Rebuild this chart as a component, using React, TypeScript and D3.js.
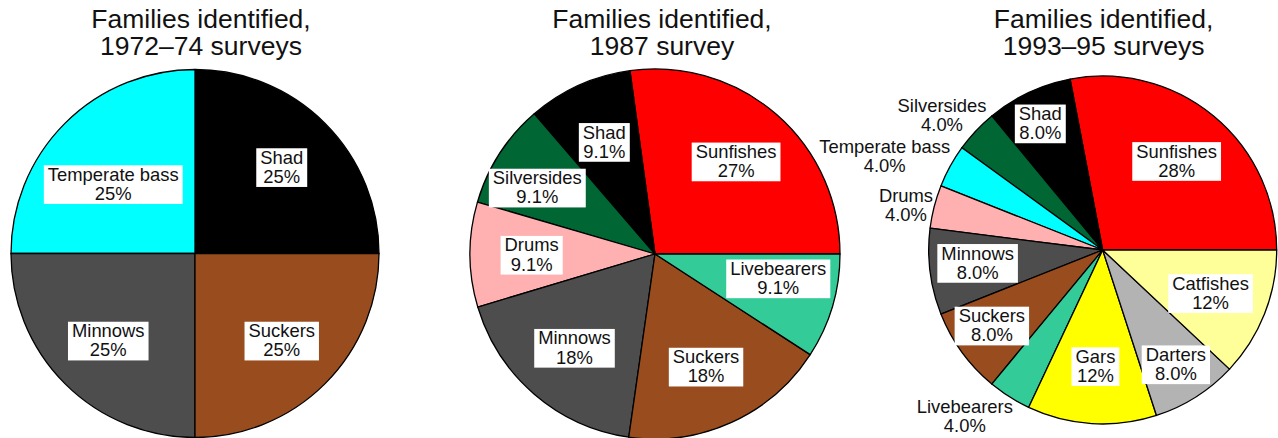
import React from "react";
import * as d3 from "d3";

// ---- Data ----
const titles1 = ["Families identified,", "1972–74 surveys"];
const titles2 = ["Families identified,", "1987 survey"];
const titles3 = ["Families identified,", "1993–95 surveys"];

const survey1Families = ["Shad", "Temperate bass", "Minnows", "Suckers"];
const survey1Percent = [25, 25, 25, 25];

const survey2Families = ["Sunfishes", "Shad", "Silversides", "Drums", "Minnows", "Suckers", "Livebearers"];
const survey2Percent = [27, 9.1, 9.1, 9.1, 18, 18, 9.1];

const survey3Families = [
  "Sunfishes", "Shad", "Silversides", "Temperate bass", "Drums", "Minnows",
  "Suckers", "Livebearers", "Gars", "Darters", "Catfishes",
];
const survey3Percent = [28, 8.0, 4.0, 4.0, 4.0, 8.0, 8.0, 4.0, 12, 8.0, 12];

// ---- Styles ----
const familyColors: Record<string, string> = {
  Shad: "#000000",
  "Temperate bass": "#00FFFF",
  Minnows: "#4D4D4D",
  Suckers: "#994D1F",
  Sunfishes: "#FF0000",
  Silversides: "#006633",
  Drums: "#FFB0B0",
  Livebearers: "#33CC99",
  Gars: "#FFFF00",
  Darters: "#B3B3B3",
  Catfishes: "#FFFF99",
};

const FONT = '"Liberation Sans", Arial, Helvetica, sans-serif';
const LABEL_SIZE = 18.4;
const LINE_H = 19.2;
const TITLE_SIZE = 26.5;

// layout: pie centers, radii, title x, label nudges
const panels = [
  {
    titles: titles1, families: survey1Families, values: survey1Percent,
    cx: 195, cy: 253.5, r: 184, titleX: 201,
    nudge: { "Temperate bass": [5, 17] } as Record<string, number[]>,
  },
  {
    titles: titles2, families: survey2Families, values: survey2Percent,
    cx: 655, cy: 254, r: 185, titleX: 662,
    nudge: { Livebearers: [5, -11], Silversides: [-14, 0] } as Record<string, number[]>,
  },
  {
    titles: titles3, families: survey3Families, values: survey3Percent,
    cx: 1102.7, cy: 250, r: 174, titleX: 1103.6,
    nudge: {
      Shad: [-13, -22], Minnows: [-10, -2], Suckers: [-17, 7], Darters: [11, 16],
      Silversides: [-8.5, 7.5], "Temperate bass": [-35, 6.6], Drums: [5.5, 6.6], Livebearers: [-26, -10],
    } as Record<string, number[]>,
  },
];

const fmt = d3.format(".2r");

let ctx: CanvasRenderingContext2D | null = null;
function measure(text: string): number {
  if (!ctx) {
    const c = document.createElement("canvas");
    ctx = c.getContext("2d");
  }
  if (!ctx) return text.length * LABEL_SIZE * 0.55;
  ctx.font = `${LABEL_SIZE}px ${FONT}`;
  return ctx.measureText(text).width;
}

function Pie({ p }: { p: (typeof panels)[number] }) {
  const data = p.families.map((f, i) => ({ family: f, value: p.values[i] }));
  const pie = d3
    .pie<{ family: string; value: number }>()
    .value((d) => d.value)
    .sort(null)
    .startAngle(Math.PI / 2)
    .endAngle(Math.PI / 2 - 2 * Math.PI);
  const arcs = pie(data);
  const arc = d3
    .arc<d3.PieArcDatum<{ family: string; value: number }>>()
    .innerRadius(0)
    .outerRadius(p.r);

  return (
    <g>
      <g transform={`translate(${p.cx},${p.cy})`}>
        {arcs.map((a, i) => (
          <path
            key={i}
            d={arc(a) || ""}
            fill={familyColors[a.data.family]}
            stroke="#000"
            strokeWidth={1.3}
            strokeLinejoin="round"
          />
        ))}
        {arcs.map((a, i) => {
          const outside = a.data.value < 5;
          const mid = (a.startAngle + a.endAngle) / 2;
          const R = outside ? p.r * 1.2 : (p.r * 2) / 3;
          const n = p.nudge[a.data.family] || [0, 0];
          const x = Math.sin(mid) * R + n[0];
          const y = -Math.cos(mid) * R + n[1];
          const l1 = a.data.family;
          const l2 = fmt(a.data.value) + "%";
          const w = Math.max(measure(l1), measure(l2)) + 8;
          const b1 = y - 3;
          const b2 = b1 + LINE_H;
          return (
            <g key={"l" + i}>
              {!outside && (
                <rect x={x - w / 2} y={b1 - 15.5} width={w} height={b2 + 4 - (b1 - 15.5)} fill="#fff" />
              )}
              <text
                x={x}
                y={b1}
                textAnchor="middle"
                fontFamily={FONT}
                fontSize={LABEL_SIZE}
                fill="#111"
              >
                <tspan x={x} y={b1}>{l1}</tspan>
                <tspan x={x} y={b2}>{l2}</tspan>
              </text>
            </g>
          );
        })}
      </g>
      <text textAnchor="middle" fontFamily={FONT} fontSize={TITLE_SIZE} fill="#111">
        <tspan x={p.titleX} y={28.3}>{p.titles[0]}</tspan>
        <tspan x={p.titleX} y={55}>{p.titles[1]}</tspan>
      </text>
    </g>
  );
}

export default function App() {
  return (
    <svg
      width={1278}
      height={438}
      style={{ position: "fixed", left: 0, top: 0, background: "#fff" }}
    >
      <rect width={1278} height={438} fill="#fff" />
      {panels.map((p, i) => (
        <Pie key={i} p={p} />
      ))}
    </svg>
  );
}
